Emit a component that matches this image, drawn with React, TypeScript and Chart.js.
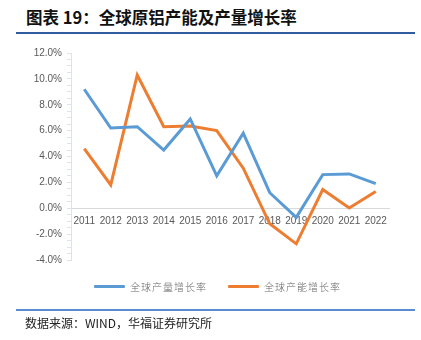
import React, { useEffect, useRef } from "react";
import { Chart, registerables } from "chart.js";

Chart.register(...registerables);

const years = ["2011", "2012", "2013", "2014", "2015", "2016", "2017", "2018", "2019", "2020", "2021", "2022"];
const outputGrowth = [9.2, 6.2, 6.3, 4.5, 6.9, 2.5, 5.8, 1.2, -0.7, 2.6, 2.65, 1.9];
const capacityGrowth = [4.6, 1.8, 10.3, 6.3, 6.35, 6.0, 3.1, -1.2, -2.75, 1.45, 0.02, 1.3];
const seriesNames = ["全球产量增长率", "全球产能增长率"];
const title = "图表 19：全球原铝产能及产量增长率";
const source = "数据来源：WIND，华福证券研究所";

const BLUE = "#5B9BD5";
const ORANGE = "#ED7D31";

export default function App() {
  const ref = useRef<HTMLCanvasElement | null>(null);
  useEffect(() => {
    if (!ref.current) return;
    const chart = new Chart(ref.current, {
      type: "line",
      data: {
        labels: years,
        datasets: [
          { label: seriesNames[0], data: outputGrowth, borderColor: BLUE, backgroundColor: BLUE, borderWidth: 3, pointRadius: 0, tension: 0 },
          { label: seriesNames[1], data: capacityGrowth, borderColor: ORANGE, backgroundColor: ORANGE, borderWidth: 3, pointRadius: 0, tension: 0 },
        ],
      },
      options: {
        animation: false,
        responsive: false,
        maintainAspectRatio: false,
        layout: { padding: { left: 0, right: 32, top: 13, bottom: 25 } },
        plugins: { legend: { display: false }, tooltip: { enabled: false } },
        scales: {
          x: {
            offset: true,
            position: { y: 0 } as any,
            grid: { display: false, drawTicks: false, offset: true },
            border: { display: true, color: "#D9D9D9", width: 1 },
            ticks: { color: "#595959", font: { family: "Liberation Sans, Arial", size: 10 }, padding: 7, maxRotation: 0, autoSkip: false },
          },
          y: {
            min: -4,
            max: 12,
            afterFit: (scale: any) => { scale.width = 71; },
            grid: { drawOnChartArea: false, drawTicks: true, tickLength: 4, color: "#DCE3F0" },
            border: { display: true, color: "#DCE3F0", width: 1 },
            ticks: {
              stepSize: 0.5,
              autoSkip: false,
              padding: 5,
              color: "#595959",
              font: { family: "Liberation Sans, Arial", size: 10 },
              callback: (v: any) => {
                const n = Number(v);
                if (Math.abs(n / 2 - Math.round(n / 2)) < 1e-6) return n.toFixed(1) + "%";
                return "";
              },
            },
          },
        },
      },
    });
    return () => chart.destroy();
  }, []);

  const legendItem = (color: string, text: string, lineLeft: number, textLeft: number) => (
    <>
      <div style={{ position: "absolute", left: lineLeft, top: 285, width: 31, height: 3, background: color, borderRadius: 1 }} />
      <div style={{ position: "absolute", left: textLeft, top: 279, fontSize: 10, letterSpacing: 1, color: "#666", fontFamily: "Noto Sans CJK SC", fontWeight: 300, lineHeight: "16px", whiteSpace: "nowrap" }}>{text}</div>
    </>
  );

  return (
    <div style={{ position: "absolute", left: 0, top: 0, width: 421, height: 340, background: "#fff", overflow: "hidden" }}>
      <div style={{ position: "absolute", left: 26, top: 6, fontSize: 16.5, fontWeight: 700, color: "#111", fontFamily: "Noto Sans CJK SC", lineHeight: "22px", whiteSpace: "nowrap" }}>{title}</div>
      <div style={{ position: "absolute", left: 16, top: 32, width: 399, height: 1.5, background: "#2E5C9E" }} />
      <canvas ref={ref} width={421} height={245} style={{ position: "absolute", left: 0, top: 40, width: 421, height: 245 }} />
      {legendItem(BLUE, seriesNames[0], 94, 130)}
      {legendItem(ORANGE, seriesNames[1], 228, 264)}
      <div style={{ position: "absolute", left: 16, top: 309, width: 399, height: 1.5, background: "#5B8BD0" }} />
      <div style={{ position: "absolute", left: 25, top: 315, fontSize: 12, color: "#222", fontFamily: "Noto Sans CJK SC", lineHeight: "16px", whiteSpace: "nowrap" }}>{source}</div>
    </div>
  );
}
